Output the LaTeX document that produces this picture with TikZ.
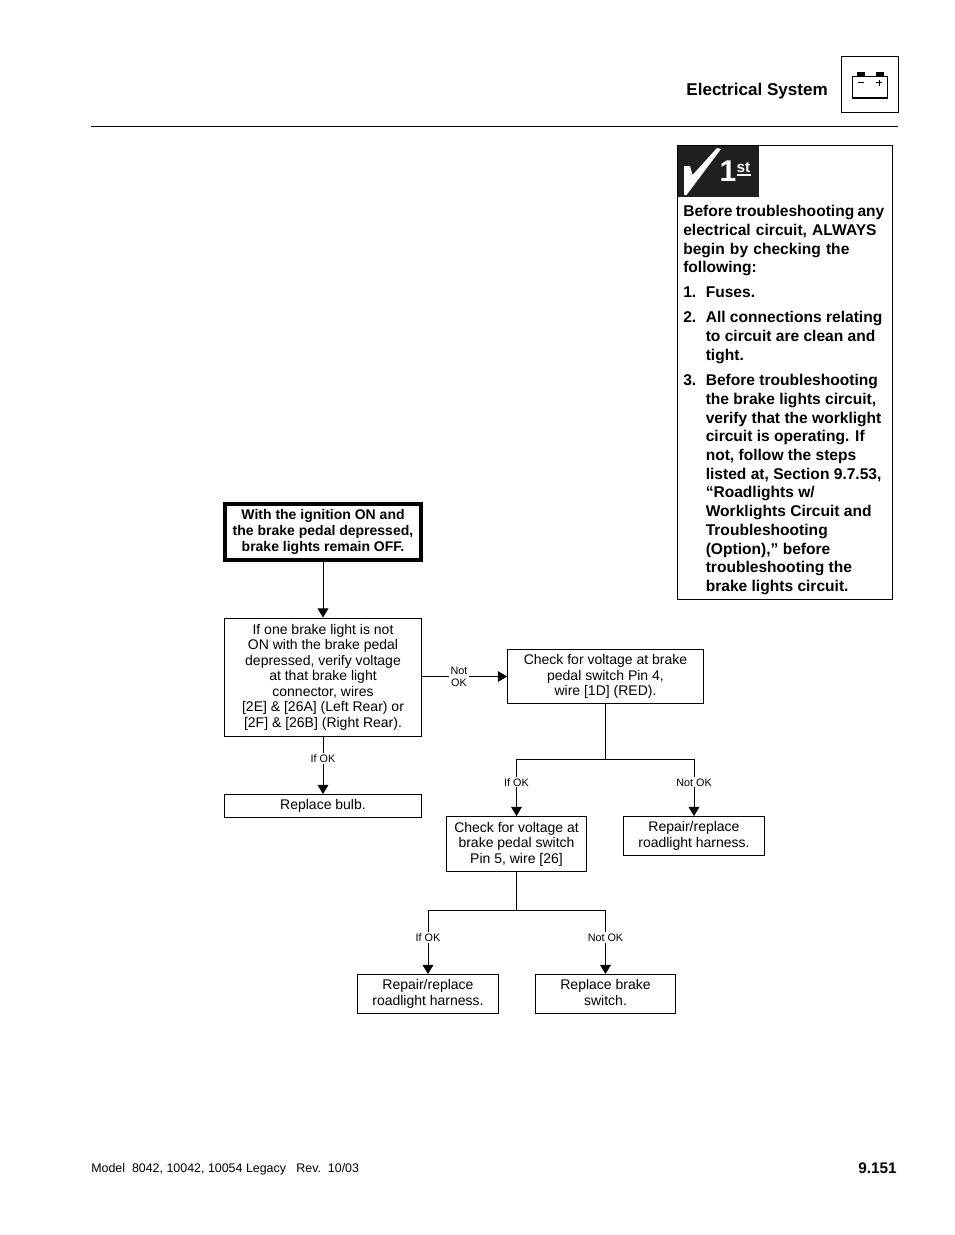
\documentclass[tikz,border=0pt]{standalone}
\usepackage{fontspec}
\setmainfont{Liberation Sans}
\usetikzlibrary{arrows.meta}
\newcommand{\bodyfs}{\fontsize{10.5pt}{11.65pt}\selectfont}
\newcommand{\boldfs}{\fontsize{10.5pt}{11.65pt}\selectfont\bfseries}
\newcommand{\notefs}{\fontsize{11.68pt}{14.05pt}\selectfont\bfseries}
\newcommand{\lblfs}{\fontsize{8.1pt}{9.4pt}\selectfont}
\tikzset{x=0.75pt,y=-0.75pt,
 flowbox/.style={draw,line width=0.7pt,inner sep=0pt,align=center,font=\bodyfs,text depth=2pt},
 link/.style={line width=0.7pt},
 arrowlink/.style={link,-{Triangle[length=6.8pt,width=8pt]}},
 lbl/.style={fill=white,inner sep=1pt,font=\lblfs,align=center,text height=6pt,text depth=0pt},
 notetext/.style={anchor=north west,inner sep=0pt,font=\notefs,align=left}}
\begin{document}
\begin{tikzpicture}
\useasboundingbox (0,0) rectangle (954,1235);
\fill[white] (0,0) rectangle (954,1235);
% header
\node[anchor=east,inner sep=0pt,font=\fontsize{12.8pt}{15pt}\selectfont\bfseries] (title) at (828,91) {Electrical System};
\draw[line width=0.75pt] (91,126.5) -- (898,126.5);
\draw[line width=0.75pt] (841.5,56.5) rectangle (898.5,112.5);
\draw[line width=0.8pt] (852.7,76.5) rectangle (887.5,98);
\draw[line width=1.3pt] (852.2,98) -- (888,98);
\fill (856.7,71.7) rectangle (865,76.5);
\fill (876,71.7) rectangle (884.3,76.5);
\draw[line width=0.8pt] (858.3,82.5) -- (864,82.5) (876.3,82.5) -- (882.3,82.5) (879.3,79.5) -- (879.3,85.5);
% note box
\draw[line width=0.75pt] (677.5,145.5) rectangle (892.5,599.5);
\fill[black!88] (677.5,145.5) rectangle (759,197);
\fill[white] (684,166) -- (690,166) -- (692.5,175) -- (717,148) -- (721,149) -- (686.5,195) -- (684,195) -- cycle;
\node[white,inner sep=0pt,font=\fontsize{22.5pt}{24pt}\selectfont\bfseries] (one) at (728,171.5) {1};
\node[white,inner sep=0pt,font=\fontsize{11.5pt}{12pt}\selectfont\bfseries] (st) at (743.5,167.5) {st};
\draw[white,line width=1pt] (736.5,175) -- (750.5,175);
\node[notetext,text width=204pt] (n0) at (683,205) {Before\hspace{2.4pt}troubleshooting\hspace{2.4pt}any\\electrical circuit, ALWAYS\\begin by checking the\\following:};
\node[notetext] (n1a) at (683,287) {1.};
\node[notetext] (n1) at (705.5,287) {Fuses.};
\node[notetext] (n2a) at (683,311) {2.};
\node[notetext] (n2) at (705.5,311) {All connections relating\\to circuit are clean and\\tight.};
\node[notetext] (n3a) at (683,374) {3.};
\node[notetext] (n3) at (705.5,374) {Before troubleshooting\\the brake lights circuit,\\verify that the worklight\\circuit is operating. If\\not, follow the steps\\listed at, Section 9.7.53,\\“Roadlights w/\\Worklights Circuit and\\Troubleshooting\\(Option),” before\\troubleshooting the\\brake lights circuit.};
% flow boxes
\node[draw,line width=2.6pt,minimum width=147pt,minimum height=42pt,inner sep=0pt,align=center,font=\boldfs,text depth=2.4pt] (start) at (323,532) {With the ignition ON and\\the brake pedal depressed,\\brake lights remain OFF.};
\node[flowbox,minimum width=147.75pt,minimum height=88.5pt] (b1) at (323,677) {If one brake light is not\\ON with the brake pedal\\depressed, verify voltage\\at that brake light\\connector, wires\\{[2E]} \& [26A] (Left Rear) or\\{[2F]} \& [26B] (Right Rear).};
\node[flowbox,minimum width=147.75pt,minimum height=17.25pt] (bulb) at (323,806) {Replace bulb.};
\node[flowbox,minimum width=147pt,minimum height=40.5pt] (b2) at (605.5,676.5) {Check for voltage at brake\\pedal switch Pin 4,\\wire [1D] (RED).};
\node[flowbox,minimum width=105pt,minimum height=41.25pt] (b3) at (516.5,844) {Check for voltage at\\brake pedal switch\\Pin 5, wire [26]};
\node[flowbox,minimum width=105.75pt,minimum height=29.25pt] (b4) at (694,836) {Repair/replace\\roadlight harness.};
\node[flowbox,minimum width=105.75pt,minimum height=29.25pt] (b5) at (428,994) {Repair/replace\\roadlight harness.};
\node[flowbox,minimum width=105pt,minimum height=29.25pt] (b6) at (605.5,994) {Replace brake\\switch.};
% connectors
\draw[arrowlink] (start) -- (b1);
\draw[arrowlink] (b1) -- node[lbl,pos=0.38] (l1) {If OK} (bulb);
\draw[arrowlink] (b1.east |- b2.west) -- node[lbl,pos=0.435,text height=15.4pt] (l2) {Not\\OK} (b2.west);
\coordinate (j1) at (605.5,759.5);
\coordinate (j1l) at (516.5,759.5);
\coordinate (j1r) at (694,759.5);
\draw[link] (b2.south) -- (j1);
\draw[arrowlink] (j1) -- (j1l) -- node[lbl,pos=0.4] (l3) {If OK} (b3.north);
\draw[arrowlink] (j1) -- (j1r) -- node[lbl,pos=0.4] (l4) {Not OK} (b4.north);
\coordinate (j2) at (516.5,910.5);
\coordinate (j2l) at (428,910.5);
\coordinate (j2r) at (605.5,910.5);
\draw[link] (b3.south) -- (j2);
\draw[arrowlink] (j2) -- (j2l) -- node[lbl,pos=0.42] (l5) {If OK} (b5.north);
\draw[arrowlink] (j2) -- (j2r) -- node[lbl,pos=0.42] (l6) {Not OK} (b6.north);
% footer
\node[anchor=west,inner sep=0pt,font=\fontsize{9.32pt}{11pt}\selectfont] (foot) at (91,1169.5) {Model\ \ 8042, 10042, 10054 Legacy\ \ \ Rev.\ \ 10/03};
\node[anchor=east,inner sep=0pt,font=\fontsize{11.5pt}{13pt}\selectfont\bfseries] (page) at (897,1168) {9.151};
\end{tikzpicture}
\end{document}
